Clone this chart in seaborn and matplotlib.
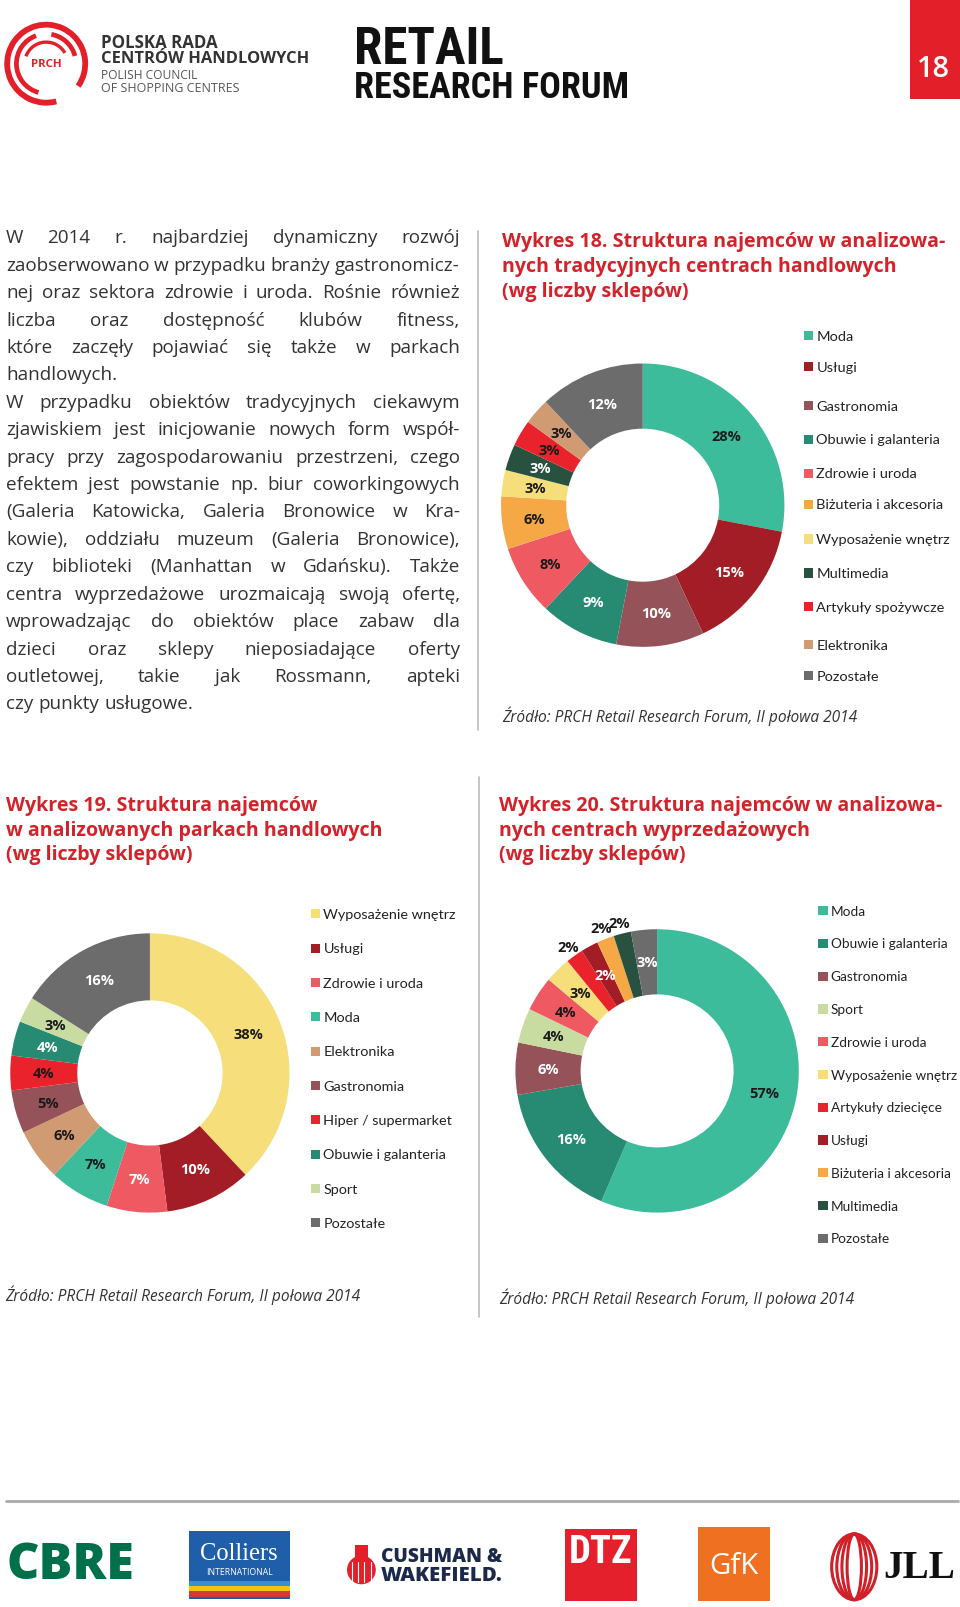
import numpy as np
import pandas as pd
import seaborn as sns
import matplotlib
matplotlib.use("Agg")
import matplotlib.pyplot as plt
from matplotlib.patches import Rectangle, Arc, Ellipse, Circle
from matplotlib import font_manager as fm

# ---------------- data ----------------
cats18 = ["Moda", "Usługi", "Gastronomia", "Obuwie i galanteria", "Zdrowie i uroda",
          "Biżuteria i akcesoria", "Wyposażenie wnętrz", "Multimedia",
          "Artykuły spożywcze", "Elektronika", "Pozostałe"]
vals18 = [28, 15, 10, 9, 8, 6, 3, 3, 3, 3, 12]

cats19 = ["Wyposażenie wnętrz", "Usługi", "Zdrowie i uroda", "Moda", "Elektronika",
          "Gastronomia", "Hiper / supermarket", "Obuwie i galanteria", "Sport", "Pozostałe"]
vals19 = [38, 10, 7, 7, 6, 5, 4, 4, 3, 16]

cats20 = ["Moda", "Obuwie i galanteria", "Gastronomia", "Sport", "Zdrowie i uroda",
          "Wyposażenie wnętrz", "Artykuły dziecięce", "Usługi", "Biżuteria i akcesoria",
          "Multimedia", "Pozostałe"]
vals20 = [57, 16, 6, 4, 4, 3, 2, 2, 2, 2, 3]

title18 = ["Wykres 18. Struktura najemców w analizowa-",
           "nych tradycyjnych centrach handlowych",
           "(wg liczby sklepów)"]
title19 = ["Wykres 19. Struktura najemców",
           "w analizowanych parkach handlowych",
           "(wg liczby sklepów)"]
title20 = ["Wykres 20. Struktura najemców w analizowa-",
           "nych centrach wyprzedażowych",
           "(wg liczby sklepów)"]
source = "Źródło: PRCH Retail Research Forum, II połowa 2014"

body_lines = [
    ("W 2014 r. najbardziej dynamiczny rozwój", True),
    ("zaobserwowano w przypadku branży gastronomicz-", True),
    ("nej oraz sektora zdrowie i uroda. Rośnie również", True),
    ("liczba oraz dostępność klubów fitness,", True),
    ("które zaczęły pojawiać się także w parkach", True),
    ("handlowych.", False),
    ("W przypadku obiektów tradycyjnych ciekawym", True),
    ("zjawiskiem jest inicjowanie nowych form współ-", True),
    ("pracy przy zagospodarowaniu przestrzeni, czego", True),
    ("efektem jest powstanie np. biur coworkingowych", True),
    ("(Galeria Katowicka, Galeria Bronowice w Kra-", True),
    ("kowie), oddziału muzeum (Galeria Bronowice),", True),
    ("czy biblioteki (Manhattan w Gdańsku). Także", True),
    ("centra wyprzedażowe urozmaicają swoją ofertę,", True),
    ("wprowadzając do obiektów place zabaw dla", True),
    ("dzieci oraz sklepy nieposiadające oferty", True),
    ("outletowej, takie jak Rossmann, apteki", True),
    ("czy punkty usługowe.", False),
]

COL = {
    "Moda": "#3dbc9c",
    "Usługi": "#a21d25",
    "Gastronomia": "#955359",
    "Obuwie i galanteria": "#278a72",
    "Zdrowie i uroda": "#ef5962",
    "Biżuteria i akcesoria": "#f6a847",
    "Wyposażenie wnętrz": "#f6df7b",
    "Multimedia": "#28513f",
    "Artykuły spożywcze": "#ea222b",
    "Elektronika": "#d09a72",
    "Pozostałe": "#6c6c6c",
    "Sport": "#c8dba0",
    "Hiper / supermarket": "#ea222b",
    "Artykuły dziecięce": "#ea222b",
}

white18 = {"Usługi", "Gastronomia", "Obuwie i galanteria", "Multimedia", "Pozostałe"}
white19 = {"Usługi", "Zdrowie i uroda", "Obuwie i galanteria", "Pozostałe"}
white20 = {"Obuwie i galanteria", "Gastronomia", "Usługi", "Pozostałe"}
outside20 = {"Artykuły dziecięce", "Biżuteria i akcesoria", "Multimedia"}

# ---------------- setup ----------------
sns.set_theme(style="white")
names = {f.name for f in fm.fontManager.ttflist}


def pick(*cands, default="DejaVu Sans"):
    for c in cands:
        if c in names:
            return c
    return default


BODY = pick("Open Sans", "Noto Sans")
LEG = pick("Lato", "Open Sans")
LAB = pick("Open Sans", "Noto Sans")
plt.rcParams["font.family"] = [BODY, "DejaVu Sans"]

NARROW = pick("Liberation Sans Narrow", "Roboto Condensed", "Open Sans Condensed", default=None)
if NARROW is None:
    if any(f.name == "DejaVu Sans" and f.stretch == "condensed" for f in fm.fontManager.ttflist):
        NARROW_KW = dict(family="DejaVu Sans", fontstretch="condensed")
    else:
        NARROW_KW = dict(family=pick("Roboto", "Open Sans"))
else:
    NARROW_KW = dict(family=NARROW)

EW = 935.0
K = 960.0 / EW
EH = 1608.0 / K

fig = plt.figure(figsize=(9.6, 16.08), dpi=100)
fig.patch.set_facecolor("white")
bg = fig.add_axes([0, 0, 1, 1])
bg.set_xlim(0, EW)
bg.set_ylim(EH, 0)
bg.axis("off")
renderer = fig.canvas.get_renderer()


def text_w(s, **kw):
    t = bg.text(0, 0, s, **kw)
    w = t.get_window_extent(renderer).width
    t.remove()
    return w


def fit(s, target, **kw):
    return 20.0 * target * K / text_w(s, fontsize=20, **kw)


# ---------------- header ----------------
red = "#e3202a"
for r, segs, lw in [(38, [(75, 395)], 4.2), (29, [(105, 250), (280, 345)], 3.4), (21, [(200, 330)], 2.4)]:
    for t1, t2 in segs:
        bg.add_patch(Arc((45, 63), 2 * r, 2 * r, theta1=t1, theta2=t2, color=red, lw=lw))
bg.text(45, 63, "PRCH", color=red, ha="center", va="center", fontweight="bold",
        fontsize=fit("PRCH", 30, fontweight="bold"))
hk = dict(fontweight="bold", color="#333333", ha="left", va="center")
bg.text(98, 42, "POLSKA RADA", fontsize=fit("POLSKA RADA", 114, fontweight="bold"), **hk)
bg.text(98, 57, "CENTRÓW HANDLOWYCH", fontsize=fit("CENTRÓW HANDLOWYCH", 202, fontweight="bold"), **hk)
lk = dict(color="#555555", ha="left", va="center")
bg.text(98, 74, "POLISH COUNCIL", fontsize=fit("POLISH COUNCIL", 94), **lk)
bg.text(98, 86, "OF SHOPPING CENTRES", fontsize=fit("OF SHOPPING CENTRES", 135), **lk)
bg.text(345, 49, "RETAIL", color="#111111", ha="left", va="center", fontweight="bold",
        fontsize=0.93 * fit("RETAIL", 157, fontweight="bold", **NARROW_KW), **NARROW_KW)
bg.text(345, 86, "RESEARCH FORUM", color="#111111", ha="left", va="center", fontweight="bold",
        fontsize=0.97 * fit("RESEARCH FORUM", 276, fontweight="bold", **NARROW_KW), **NARROW_KW)
bg.add_patch(Rectangle((886, 0), EW - 886, 97, color=red, lw=0))
bg.text(909, 68, "18", color="white", ha="center", va="center", fontweight="semibold",
        fontsize=fit("18", 32, fontweight="semibold"), family=BODY)

# ---------------- body text (justified) ----------------
x0, x1 = 6, 448
body_fs = fit(body_lines[1][0], x1 - x0, family=BODY)
space_w = (text_w("a a", fontsize=body_fs, family=BODY) - text_w("aa", fontsize=body_fs, family=BODY)) / K
for i, (line, just) in enumerate(body_lines):
    y = 231 + i * 26.7 + 6
    words = line.split(" ")
    widths = [text_w(w, fontsize=body_fs, family=BODY) / K for w in words]
    gap = (x1 - x0 - sum(widths)) / (len(words) - 1) if (just and len(words) > 1) else space_w
    x = x0
    for w, wd in zip(words, widths):
        bg.text(x, y, w, fontsize=body_fs, family=BODY, color="#333333", ha="left", va="baseline")
        x += wd + gap

# dividers
bg.plot([466, 466], [226, 712], color="#bbbbbb", lw=1.2)
bg.plot([467, 467], [758, 1284], color="#bbbbbb", lw=1.2)

# ---------------- titles / sources ----------------
tcol = "#d2232b"
title_fs = fit(title18[0], 431, family=BODY, fontweight="bold")
for lines, tx, ty in [(title18, 489, 236), (title19, 6, 785), (title20, 486, 785)]:
    for j, ln in enumerate(lines):
        bg.text(tx, ty + 24 * j, ln, color=tcol, fontsize=title_fs, family=BODY,
                fontweight="bold", ha="left", va="center")
src_fs = fit(source, 347, family=BODY, style="italic")
for sx, sy in [(489, 698), (5, 1262), (486, 1264)]:
    bg.text(sx, sy, source, fontsize=src_fs, family=BODY, style="italic",
            color="#333333", ha="left", va="center")

# ---------------- donuts ----------------
lab_fs = fit("28%", 30 / K, family=LAB, fontweight="bold")


def donut(cx, cy, r, cats, vals, white, hole, outside=()):
    pad = 1.25
    ax = fig.add_axes([(cx - pad * r) / EW, 1 - (cy + pad * r) / EH,
                       2 * pad * r / EW, 2 * pad * r / EH])
    wedges, _ = ax.pie(vals, colors=[COL[c] for c in cats], startangle=90,
                       counterclock=False, radius=1,
                       wedgeprops=dict(width=1 - hole, linewidth=0, edgecolor="none"))
    ax.set_xlim(-pad, pad)
    ax.set_ylim(-pad, pad)
    ax.set_aspect("equal")
    ax.axis("off")
    for w, v, c in zip(wedges, vals, cats):
        ang = np.deg2rad((w.theta1 + w.theta2) / 2)
        rr = 1.08 if c in outside else (1 + hole) / 2
        ax.text(rr * np.cos(ang), rr * np.sin(ang), f"{v}%", ha="center", va="center",
                color="white" if c in white else "#1a1a1a", fontsize=lab_fs,
                fontweight="bold", family=LAB)


donut(626, 493, 138, cats18, vals18, white18, 0.54)
donut(146, 1046, 136, cats19, vals19, white19, 0.52)
donut(640, 1044, 138, cats20, vals20, white20, 0.54, outside20)

# ---------------- legends ----------------
def legend(sx, tx, ys, cats, width_wyp):
    fs = fit("Wyposażenie wnętrz", width_wyp, family=LEG)
    for y, c in zip(ys, cats):
        bg.add_patch(Rectangle((sx, y - 4.5), 9, 9, color=COL[c], lw=0))
        bg.text(tx, y, c, fontsize=fs, family=LEG, color="#222222", ha="left", va="center")


legend(783, 795, [328, 358, 396, 429, 462, 492, 526, 559, 592, 629, 659], cats18, 130)
legend(303, 315, np.linspace(891, 1192, len(cats19)), cats19, 129)
legend(797, 809, np.linspace(888, 1207, len(cats20)), cats20, 123)

# ---------------- footer ----------------
bg.plot([6, 933], [1463, 1463], color="#aaaaaa", lw=2)
# CBRE
bg.text(6, 1525, "CBRE", color="#00704a", fontweight="heavy", ha="left", va="center",
        fontsize=fit("CBRE", 124, fontweight="heavy"))
# Colliers
bg.add_patch(Rectangle((184, 1492), 98, 66, color="#1f5ea8", lw=0))
for yy, cc in [(1541, "#3b8fd0"), (1546, "#f1c40f"), (1551, "#d9383a")]:
    bg.add_patch(Rectangle((184, yy), 98, 5, color=cc, lw=0))
serif = pick("Liberation Serif", "DejaVu Serif")
bg.text(233, 1514, "Colliers", color="white", family=serif, ha="center", va="center",
        fontsize=fit("Colliers", 76, family=serif))
bg.text(233, 1532, "INTERNATIONAL", color="white", ha="center", va="center",
        fontsize=fit("INTERNATIONAL", 64))
# Cushman & Wakefield
bg.add_patch(Circle((352, 1530), 14, color="#e3202a", lw=0))
bg.add_patch(Rectangle((346, 1506), 12, 14, color="#e3202a", lw=0))
for xx in [343, 349, 355, 361]:
    bg.plot([xx, xx], [1522, 1542], color="white", lw=0.8)
ck = dict(color="#1b2a4a", fontweight="heavy", ha="left", va="center")
bg.text(371, 1516, "CUSHMAN &", fontsize=fit("CUSHMAN &", 118, fontweight="heavy"), **ck)
bg.text(371, 1535, "WAKEFIELD.", fontsize=fit("WAKEFIELD.", 118, fontweight="heavy"), **ck)
# DTZ
bg.add_patch(Rectangle((550, 1490), 70, 70, color="#e4202c", lw=0))
bg.text(585, 1512, "DTZ", color="white", fontweight="bold", ha="center", va="center",
        fontsize=fit("DTZ", 62, fontweight="bold", **NARROW_KW), **NARROW_KW)
# GfK
bg.add_patch(Rectangle((680, 1488), 70, 72, color="#f07022", lw=0))
bg.text(715, 1526, "GfK", color="white", ha="center", va="center",
        fontsize=fit("GfK", 48))
# JLL
for k in range(4):
    bg.add_patch(Ellipse((832, 1527), 44 - 10 * k, 64, fill=False, ec="#d0202a", lw=2.2))
bg.text(860, 1528, "JLL", color="#111111", family=serif, fontweight="bold", ha="left",
        va="center", fontsize=fit("JLL", 70, family=serif, fontweight="bold"))

fig.savefig("out.png", dpi=100, facecolor="white")
